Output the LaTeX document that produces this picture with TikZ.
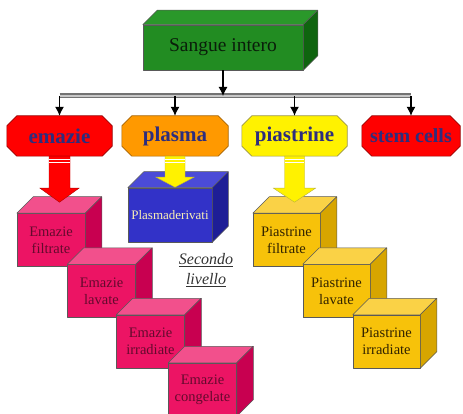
\documentclass[tikz,border=0pt]{standalone}
\usepackage{fontspec}
\setmainfont{Liberation Serif}
\usetikzlibrary{arrows.meta,backgrounds}
\definecolor{pinkF}{RGB}{236,20,100}
\definecolor{pinkT}{RGB}{242,80,140}
\definecolor{pinkS}{RGB}{200,0,80}
\definecolor{pinkX}{RGB}{100,10,45}
\definecolor{goldF}{RGB}{247,194,10}
\definecolor{goldT}{RGB}{250,210,70}
\definecolor{goldS}{RGB}{215,165,0}
\definecolor{goldX}{RGB}{50,35,0}
\definecolor{blueF}{RGB}{50,50,200}
\definecolor{blueT}{RGB}{75,75,215}
\definecolor{blueS}{RGB}{30,30,150}
\definecolor{blueX}{RGB}{250,240,180}
\definecolor{greenF}{RGB}{34,140,34}
\definecolor{greenT}{RGB}{42,152,42}
\definecolor{greenS}{RGB}{15,100,15}
\definecolor{greenX}{RGB}{10,30,10}
\definecolor{octtext}{RGB}{45,45,125}
\definecolor{orangeF}{RGB}{255,153,0}
\newcommand\cubesides[4]{%
  \filldraw[face, fill=#2] (#1.north west) -- ++(#4,-#4) -- ([shift={(#4,-#4)}]#1.north east) -- (#1.north east) -- cycle;
  \filldraw[face, fill=#3] (#1.north east) -- ++(#4,-#4) -- ([shift={(#4,-#4)}]#1.south east) -- (#1.south east) -- cycle;
}
\newcommand\octoshape[3]{%
  \begin{scope}[on background layer]
  \filldraw[fill=#2, draw=#3, line width=0.6pt, line join=miter]
    ([xshift=10pt]#1.north west) -- ([xshift=-10pt]#1.north east) -- ([yshift=-10pt]#1.north east)
    -- ([yshift=10pt]#1.south east) -- ([xshift=-10pt]#1.south east) -- ([xshift=10pt]#1.south west)
    -- ([yshift=10pt]#1.south west) -- ([yshift=-10pt]#1.north west) -- cycle;
  \end{scope}
}
\newcommand\blockarrow[6]{%
  \filldraw[fill=#6, draw=#6!70!black, line width=0.4pt, line join=miter]
    ([xshift=-#2pt]#1) -- ++(0,#4) -- ++({#2-#3},0) -- ++(#3,#5) -- ++(#3,-#5)
    -- ++({#2-#3},0) -- ++(0,-#4) -- cycle;
  \draw[white, line width=0.8pt] ([xshift=-#2pt+0.4pt,yshift=-3pt]#1) -- ++({2*#2-0.8},0);
  \draw[white, line width=0.8pt] ([xshift=-#2pt+0.4pt,yshift=-6pt]#1) -- ++({2*#2-0.8},0);
}
\begin{document}
\begin{tikzpicture}[x=1pt,y=-1pt,
  face/.style={draw=black!65, line width=0.5pt, line join=round},
  cubefront/.style={face, inner sep=0pt, align=center},
  pinkbox/.style={cubefront, fill=pinkF, text=pinkX, minimum width=68pt, minimum height=53pt,
    font=\fontsize{14.5}{17}\selectfont},
  goldbox/.style={cubefront, fill=goldF, text=goldX, minimum width=67pt, minimum height=53pt,
    font=\fontsize{14.5}{17}\selectfont},
  oct/.style={rectangle, minimum width=105pt, minimum height=40pt, inner sep=0pt,
    text=octtext, font=\fontsize{21}{24}\selectfont\bfseries},
  conn/.style={line width=1.1pt, -{Latex[length=9pt,width=9pt]}},
]
\useasboundingbox (0,0) rectangle (463,414);
\begin{scope}[on background layer]
\fill[white] (0,0) rectangle (463,414);
\end{scope}

% top green box
\node[cubefront, fill=greenF, text=greenX, minimum width=160pt, minimum height=45pt,
  font=\fontsize{19.5}{22}\selectfont] (sangue) at (223,47.5) {Sangue intero};
\cubesides{sangue}{greenT}{greenS}{14.5}

% first level
\coordinate (busy) at (0,96);
\node[oct] (em) at (59.5,136) {emazie};
\octoshape{em}{red}{red!60!black}
\node[oct, minimum width=106pt] (pl) at (175,136) {plasma};
\octoshape{pl}{orangeF}{orangeF!65!black}
\node[oct] (pi) at (294.5,136) {piastrine};
\octoshape{pi}{yellow}{yellow!55!black}
\node[oct, minimum width=98pt, font=\fontsize{20}{24}\selectfont\bfseries] (sc) at (411,136) {stem cells};
\octoshape{sc}{red}{red!60!black}

\coordinate (b1) at (em.north |- busy);
\coordinate (b2) at (pl.north |- busy);
\coordinate (b3) at (pi.north |- busy);
\coordinate (b4) at (sc.north |- busy);
\coordinate (b0) at (sangue.south |- busy);
\draw[line width=5pt, black!55] (b1) -- (b4);
\draw[line width=2.6pt, black!22] (b1) -- (b4);
\draw[conn] (sangue.south) -- (b0);
\draw[conn] (b1) -- (em.north);
\draw[conn] (b2) -- (pl.north);
\draw[conn] (b3) -- (pi.north);
\draw[conn] (b4) -- (sc.north);

% plasma derivati
\node[cubefront, fill=blueF, text=blueX, minimum width=84pt, minimum height=54pt,
  font=\fontsize{13}{15}\selectfont] (pd) at (170,215) {Plasmaderivati};
\cubesides{pd}{blueT}{blueS}{16}

% emazie boxes
\node[pinkbox] (e1) at (51,240) {Emazie\\filtrate};
\cubesides{e1}{pinkT}{pinkS}{16.5}
\node[pinkbox] (e2) at (101.5,291) {Emazie\\lavate};
\cubesides{e2}{pinkT}{pinkS}{16.5}
\node[pinkbox] (e3) at (150.5,341.5) {Emazie\\irradiate};
\cubesides{e3}{pinkT}{pinkS}{16.5}
\node[pinkbox] (e4) at (202.5,389.5) {Emazie\\congelate};
\cubesides{e4}{pinkT}{pinkS}{16.5}

% piastrine boxes
\node[goldbox] (p1) at (286.5,240) {Piastrine\\filtrate};
\cubesides{p1}{goldT}{goldS}{16.5}
\node[goldbox] (p2) at (336.5,291) {Piastrine\\lavate};
\cubesides{p2}{goldT}{goldS}{16.5}
\node[goldbox] (p3) at (386.5,341.5) {Piastrine\\irradiate};
\cubesides{p3}{goldT}{goldS}{16.5}

% block arrows
\blockarrow{em.south}{10.5}{19.5}{32}{14}{red}
\blockarrow{pl.south}{10}{19}{21}{10}{yellow}
\blockarrow{pi.south}{10}{21}{32}{14}{yellow}

% label
\node[align=center, text=black!80, font=\fontsize{16}{20}\selectfont\itshape] (sl) at (206,270)
  {\underline{Secondo}\\\underline{livello}};
\end{tikzpicture}
\end{document}
